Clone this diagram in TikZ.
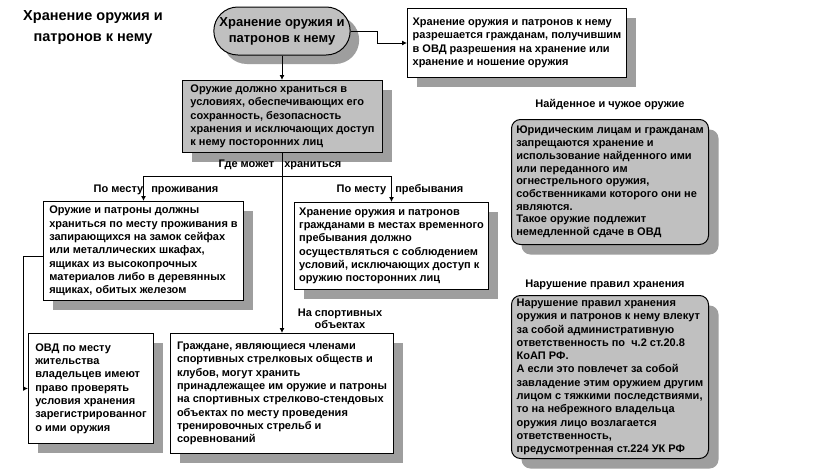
\documentclass[tikz,border=0pt]{standalone}
\usepackage{fontspec}
\setmainfont{Liberation Sans}
\usepackage{tikz}
\usetikzlibrary{arrows.meta, positioning, shadows, shapes.misc}
\usepackage{xcolor}
\definecolor{wpgray}{RGB}{192,192,192}
\definecolor{wpshadow}{RGB}{158,158,158}
\tikzset{
    shd/.style={drop shadow={shadow xshift=#1, shadow yshift=-#1, fill=wpshadow, opacity=1}},
    boxbase/.style={draw=black, line width=1pt, align=left, anchor=north west,
                    font=\fontsize{11}{13.3}\selectfont\bfseries, inner xsep=3pt, inner ysep=2pt},
    box/.style={boxbase, fill=white, shd=9pt},
    graybox/.style={boxbase, fill=wpgray, shd=9pt},
    roundbox/.style={boxbase, fill=wpgray, rounded corners=9pt, shd=10pt},
    oval/.style={rounded rectangle, draw=black, line width=1pt, fill=wpgray, align=center,
                 font=\fontsize{13}{16}\selectfont\bfseries, shd=9pt},
    arrow/.style={-{Latex[length=5pt, width=5pt]}, line width=0.9pt},
    lbl/.style={font=\fontsize{11}{12.5}\selectfont\bfseries, inner sep=0pt, align=center},
}

\begin{document}
\begin{tikzpicture}[x=1pt, y=-1pt]
    \fill[white] (0,0) rectangle (819,474);
    \useasboundingbox (0,0) rectangle (819,474);
    \node[font=\fontsize{14.5}{21}\selectfont\bfseries, align=center] (title) at (93,28) {Хранение оружия и\\патронов к нему};
    \node[oval, minimum width=143pt, minimum height=48pt] (top) at (282,31) {Хранение оружия и\\патронов к нему};
    \node[box, minimum width=219pt, minimum height=69pt] (perm) at (407,8) {Хранение оружия и патронов к нему\\разрешается гражданам, получившим\\в ОВД разрешения на хранение или\\хранение и ношение оружия};
    \node[graybox, minimum width=200pt, minimum height=72pt] (cond) at (182,80) {Оружие должно храниться в\\условиях, обеспечивающих его\\сохранность, безопасность\\хранения и исключающих доступ\\к нему посторонних лиц};
    \node[box, minimum width=200pt, minimum height=99pt] (home) at (43,201) {Оружие и патроны должны\\храниться по месту проживания в\\запирающихся на замок сейфах\\или металлических шкафах,\\ящиках из высокопрочных\\материалов либо в деревянных\\ящиках, обитых железом};
    \node[box, minimum width=194pt, minimum height=87pt] (stay) at (294,202) {Хранение оружия и патронов\\гражданами в местах временного\\пребывания должно\\осуществляться с соблюдением\\условий, исключающих доступ к\\оружию посторонних лиц};
    \node[box, minimum width=125pt, minimum height=110pt] (ovd) at (28,333) {ОВД по месту\\жительства\\владельцев имеют\\право проверять\\условия хранения\\зарегистрированног\\о ими оружия};
    \node[box, minimum width=223pt, minimum height=120pt] (sport) at (170,333) {Граждане, являющиеся членами\\спортивных стрелковых обществ и\\клубов, могут хранить\\принадлежащее им оружие и патроны\\на спортивных стрелково-стендовых\\объектах по месту проведения\\тренировочных стрельб и\\соревнований};
    \node[roundbox, minimum width=197pt, minimum height=125pt, font=\fontsize{11}{12.7}\selectfont\bfseries] (found) at (511,119) {Юридическим лицам и гражданам\\запрещаются хранение и\\использование найденного ими\\или переданного им\\огнестрельного оружия,\\собственниками которого они не\\являются.\\Такое оружие подлежит\\немедленной сдаче в ОВД};
    \node[roundbox, minimum width=197pt, minimum height=163pt] (viol) at (511,295) {Нарушение правил хранения\\оружия и патронов к нему влекут\\за собой административную\\ответственность по \ ч.2 ст.20.8\\КоАП РФ.\\А если это повлечет за собой\\завладение этим оружием другим\\лицом с тяжкими последствиями,\\то на небрежного владельца\\оружия лицо возлагается\\ответственность,\\предусмотренная ст.224 УК РФ};
    \node[lbl] (where) at (280,165) {Где может\hspace{10pt}храниться};
    \node[lbl] (lhome) at (156,190) {По месту\hspace{8pt}проживания};
    \node[lbl] (lstay) at (400,190) {По месту\hspace{9pt}пребывания};
    \node[lbl] (lsport) at (340,319) {На спортивных\\объектах};
    \node[lbl] (lfound) at (610,105) {Найденное и чужое оружие};
    \node[lbl] (lviol) at (605,285) {Нарушение правил хранения};
    \coordinate (fork) at (282,176);
    \draw[arrow] (top.south) -- (top.south |- cond.north);
    \draw[arrow] (top.east) -- ++(27,0) |- (perm.west);
    \draw[line width=0.9pt] (cond.south -| fork) -- (fork);
    \draw[arrow] (fork) -- (fork |- sport.north);
    \draw[arrow] (fork) -| (home.north);
    \draw[arrow] (fork) -| (stay.north);
    \draw[arrow] ([yshift=-5pt]home.west) -- ++(-20,0) |- (ovd.west);
\end{tikzpicture}
\end{document}
